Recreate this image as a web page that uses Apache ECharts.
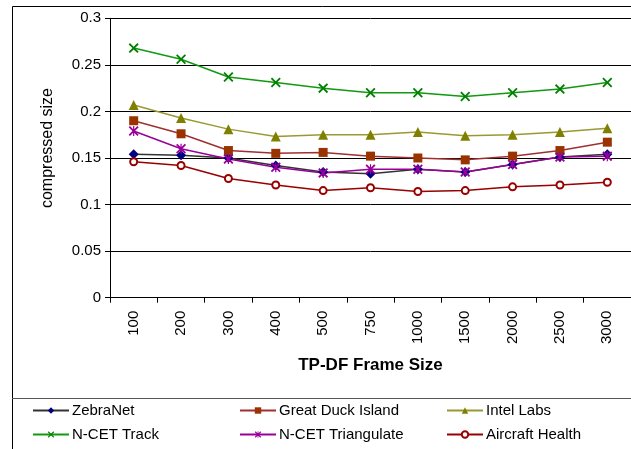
<!DOCTYPE html>
<html>
<head>
<meta charset="utf-8">
<script src="https://cdn.jsdelivr.net/npm/echarts@6/dist/echarts.min.js"></script>
<style>
html,body{margin:0;padding:0;background:#fff;}
#chart{width:631px;height:449px;}
</style>
</head>
<body>
<div id="chart"></div>
<script>
var categories = ['100','200','300','400','500','750','1000','1500','2000','2500','3000'];
var zebraNet      = [0.154,0.153,0.150,0.142,0.135,0.133,0.138,0.135,0.143,0.151,0.154];
var greatDuck     = [0.190,0.176,0.158,0.155,0.156,0.152,0.150,0.148,0.152,0.158,0.167];
var intelLabs     = [0.207,0.193,0.181,0.173,0.175,0.175,0.178,0.174,0.175,0.178,0.182];
var ncetTrack     = [0.268,0.256,0.237,0.231,0.225,0.220,0.220,0.216,0.220,0.224,0.231];
var ncetTriang    = [0.179,0.160,0.149,0.140,0.134,0.138,0.138,0.135,0.143,0.151,0.152];
var aircraft      = [0.146,0.142,0.128,0.121,0.115,0.118,0.114,0.115,0.119,0.121,0.124];
var seriesNames = ['ZebraNet','Great Duck Island','Intel Labs','N-CET Track','N-CET Triangulate','Aircraft Health'];

var FONT = "'Liberation Sans', Arial, sans-serif";
var X_PATH = 'path://M0,1.3L1.3,0L5,3.7L8.7,0L10,1.3L6.3,5L10,8.7L8.7,10L5,6.3L1.3,10L0,8.7L3.7,5Z';
var STAR_PATH = 'path://M0,1.3L1.3,0L5,3.7L8.7,0L10,1.3L6.3,5L10,8.7L8.7,10L5,6.3L1.3,10L0,8.7L3.7,5Z M4.4,0L5.6,0L5.6,10L4.4,10Z';

function mk(name, data, lineColor, markColor, symbol, size, extra) {
  var s = {
    name: name, type: 'line', data: data,
    symbol: symbol, symbolSize: size,
    lineStyle: {color: lineColor, width: 1.5},
    itemStyle: {color: markColor, borderColor: markColor, borderWidth: 0},
    emphasis: {disabled: true},
    animation: false
  };
  if (extra) for (var k in extra) s[k] = extra[k];
  return s;
}

var chart = echarts.init(document.getElementById('chart'), null, {renderer: 'canvas'});

var legendPos = [
  {left: 32, top: 403}, {left: 239, top: 403}, {left: 446, top: 403},
  {left: 32, top: 427}, {left: 239, top: 427}, {left: 446, top: 427}
];
var legends = seriesNames.map(function(n, i){
  return {
    data: [n], left: legendPos[i].left, top: legendPos[i].top,
    itemWidth: 36, itemHeight: 8, itemGap: 0, padding: 0,
    selectedMode: false,
    textStyle: {fontFamily: FONT, fontSize: 15, color: '#000', padding: [0,0,0,-2]}
  };
});

chart.setOption({
  backgroundColor: '#fff',
  animation: false,
  graphic: [
    {type: 'rect', shape: {x: 12.5, y: 6.5, width: 640, height: 460}, style: {fill: 'none', stroke: '#000', lineWidth: 1}, z: -1},
    {type: 'line', shape: {x1: 12, y1: 398.5, x2: 640, y2: 398.5}, style: {stroke: '#555', lineWidth: 1}, z: -1}
  ],
  legend: legends,
  grid: {left: 110, top: 18.3, right: -2, bottom: 151.3, containLabel: false},
  xAxis: {
    type: 'category', data: categories, boundaryGap: true,
    name: 'TP-DF Frame Size', nameLocation: 'middle', nameGap: 59,
    nameTextStyle: {fontFamily: FONT, fontSize: 17, fontWeight: 'bold', color: '#000'},
    axisLine: {lineStyle: {color: '#000', width: 1}},
    axisTick: {show: true, length: 5, lineStyle: {color: '#000'}, alignWithLabel: false},
    axisLabel: {rotate: 90, fontFamily: FONT, fontSize: 15, color: '#000', margin: 13, interval: 0},
    splitLine: {show: false}
  },
  yAxis: {
    type: 'value', min: 0, max: 0.3, interval: 0.05,
    name: 'compressed size', nameLocation: 'middle', nameGap: 54, nameRotate: 90,
    nameTextStyle: {fontFamily: FONT, fontSize: 16, color: '#000', padding: [0,0,0,20]},
    axisLine: {show: true, lineStyle: {color: '#000', width: 1}},
    axisTick: {show: true, length: 5, lineStyle: {color: '#000'}},
    axisLabel: {fontFamily: FONT, fontSize: 15, color: '#000', margin: 9},
    splitLine: {show: true, lineStyle: {color: '#000', width: 1}}
  },
  series: [
    mk(seriesNames[0], zebraNet, '#333333', '#000080', 'diamond', 10),
    mk(seriesNames[1], greatDuck, '#a03030', '#993300', 'rect', 9),
    mk(seriesNames[2], intelLabs, '#999933', '#808000', 'triangle', 10),
    mk(seriesNames[3], ncetTrack, '#119911', '#008000', X_PATH, 10),
    mk(seriesNames[4], ncetTriang, '#990099', '#990099', STAR_PATH, 10),
    mk(seriesNames[5], aircraft, '#990000', '#990000', 'emptyCircle', 7,
       {itemStyle: {color: '#990000', borderColor: '#990000', borderWidth: 1.2}})
  ]
});
</script>
</body>
</html>
